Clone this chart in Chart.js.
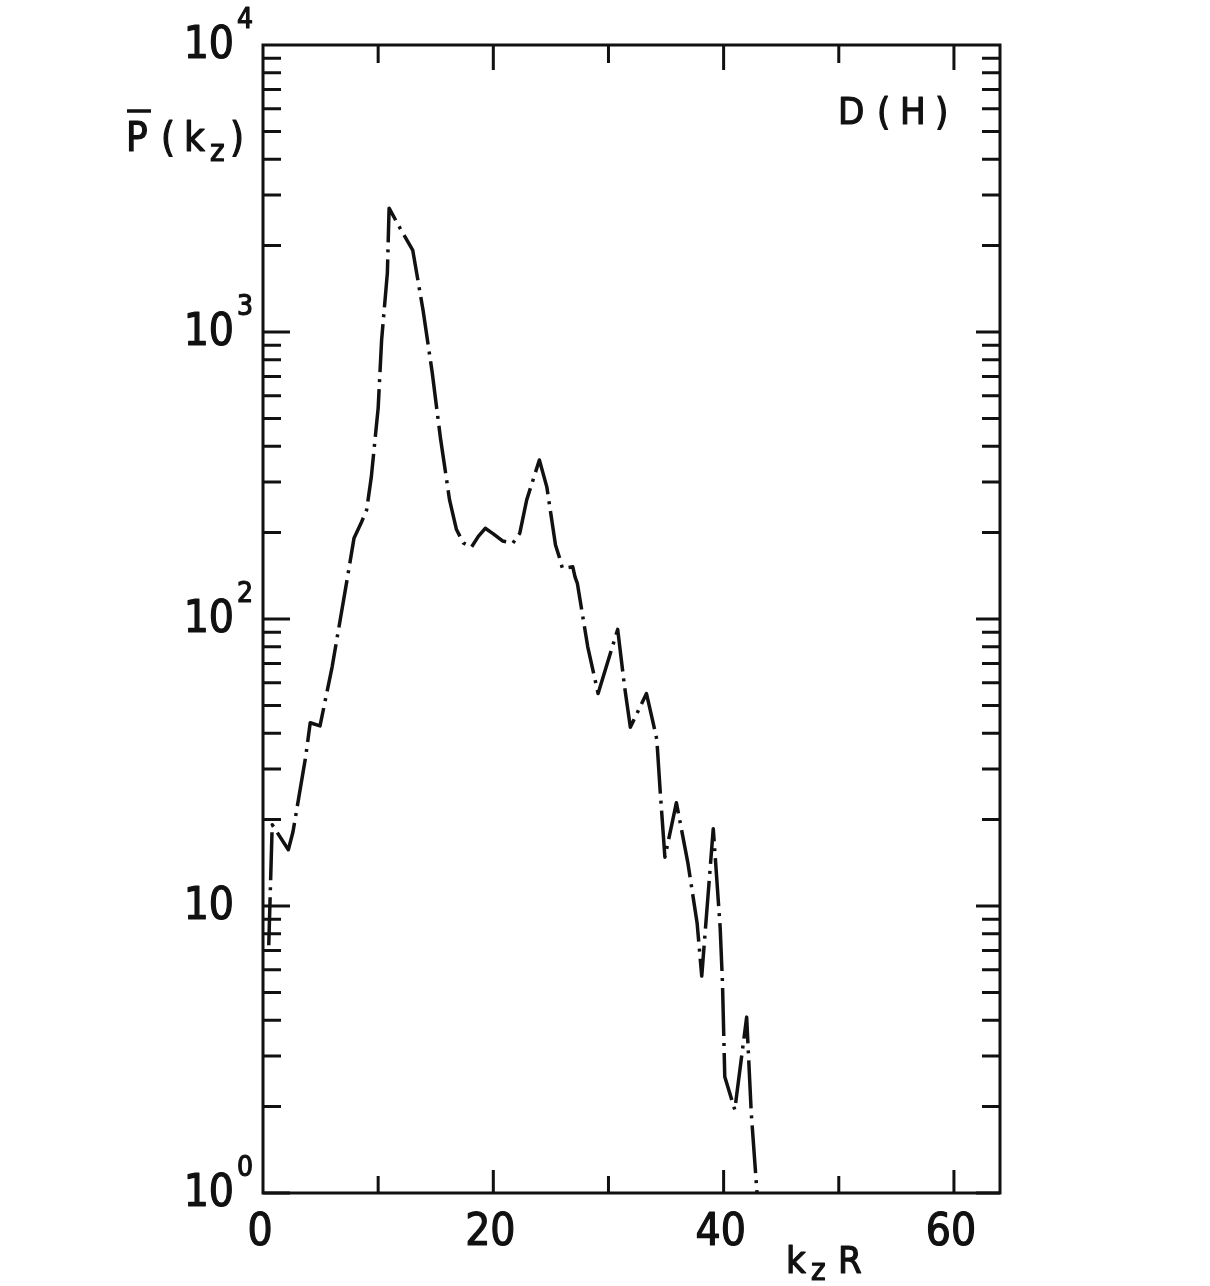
<!DOCTYPE html>
<html>
<head>
<meta charset="utf-8">
<script src="https://cdn.jsdelivr.net/npm/chart.js@4/dist/chart.umd.min.js"></script>
<style>
  html, body { margin: 0; padding: 0; background: #fff; }
  #wrap { width: 1210px; height: 1286px; }
</style>
</head>
<body>
<div id="wrap"><canvas id="spectrum" width="1210" height="1286"></canvas></div>
<script>
// k_z R values and the spectrum P(k_z)
const kzR = [0.5, 0.8, 2.2, 2.6, 3.7, 4.1, 4.95, 6.0, 7.3, 7.9, 8.5, 9.0, 9.4, 10.0, 10.3, 10.8, 10.95,
             11.9, 13.0, 13.9, 14.7, 15.4, 16.2, 16.8, 17.4, 18.1, 18.7, 19.3, 20.0, 20.8, 21.7, 22.3, 22.9, 24.0, 24.65, 25.4,
             25.8, 26.0, 26.9, 27.1, 27.3, 28.2, 29.1, 30.8, 31.4, 31.9, 33.3, 33.85, 34.2, 34.5,
             34.9, 35.9, 36.9, 37.7, 38.1, 39.1, 39.7, 39.9, 40.1, 40.97, 42.0, 42.4, 42.9];
const power = [7.3, 19.2, 15.7, 18.1, 33, 43.5, 42.4, 68, 137, 191, 215, 240, 311, 543, 937, 1606, 2700,
               2300, 1930, 1190, 720, 430, 260, 205, 184, 178, 194, 207, 198, 187, 184, 199, 260, 358, 288, 181,
               161, 150, 152, 140, 133, 80, 55, 92, 58, 42, 55, 44, 38, 24.8,
               14.8, 22.9, 14.1, 8.7, 5.7, 18.6, 8.4, 5.4, 2.54, 1.95, 4.1, 1.9, 1.0];

// axis ticks
const xMinorTicks = [10, 30, 50];
const xMajorTicks = [0, 20, 40, 60];
const xTickLabels = ['0', '20', '40', '60'];
const yDecades = [1, 10, 100, 1000, 10000];
const yExponents = ['0', '', '2', '3', '4'];

const FONT = '"Liberation Sans Narrow", "DejaVu Sans Condensed", "Liberation Sans", sans-serif';

const points = kzR.map((v, i) => ({ x: v, y: power[i] }));

// pen-like text: fill plus a thin outline
function penText(c, s, x, y) {
    c.fillText(s, x, y);
    c.strokeText(s, x, y);
}

// frame, inward ticks and labels drawn from the chart's own scales
const framePlugin = {
    id: 'frame',
    afterDraw(chart) {
        const c = chart.ctx;
        const a = chart.chartArea;
        const xs = chart.scales.x;
        const ys = chart.scales.y;
        c.save();
        c.strokeStyle = '#111';
        c.fillStyle = '#111';
        c.lineWidth = 3;
        c.strokeRect(a.left, a.top, a.right - a.left, a.bottom - a.top);

        // y ticks, left and right
        for (let d = 0; d < 4; d++) {
            for (let m = 1; m <= 9; m++) {
                const py = ys.getPixelForValue(m * Math.pow(10, d));
                const major = m === 1;
                c.beginPath();
                c.moveTo(a.left, py); c.lineTo(a.left + (major ? 27 : 18), py);
                c.moveTo(a.right, py); c.lineTo(a.right - (major ? 24 : 18), py);
                c.stroke();
            }
        }
        // x ticks, bottom and top
        xMinorTicks.concat(xMajorTicks).forEach(v => {
            if (v === 0) return;
            const px = xs.getPixelForValue(v);
            const major = v % 20 === 0;
            c.beginPath();
            c.moveTo(px, a.bottom); c.lineTo(px, a.bottom - (major ? 23 : 17));
            c.moveTo(px, a.top); c.lineTo(px, a.top + (major ? 25 : 18));
            c.stroke();
        });

        c.lineWidth = 1.2;
        c.lineJoin = 'round';

        // x tick labels
        c.font = '44px ' + FONT;
        c.textAlign = 'center';
        c.textBaseline = 'alphabetic';
        xMajorTicks.forEach((v, i) => {
            penText(c, xTickLabels[i], xs.getPixelForValue(v) - 3, a.bottom + 52);
        });

        // y tick labels: 10 with exponent
        yDecades.forEach((v, i) => {
            const py = ys.getPixelForValue(v);
            c.font = '44px ' + FONT;
            c.textAlign = 'right';
            c.textBaseline = 'middle';
            penText(c, '10', 234, py + 2);
            if (yExponents[i]) {
                c.font = '28px ' + FONT;
                c.textAlign = 'left';
                penText(c, yExponents[i], 237, py - 24);
            }
        });

        // y axis title: P-bar(k_z)
        c.textAlign = 'left';
        c.textBaseline = 'alphabetic';
        c.font = '40px ' + FONT;
        penText(c, 'P', 126, 151);
        penText(c, '(', 161, 151);
        penText(c, 'k', 184, 151);
        penText(c, ')', 230, 151);
        c.font = '31px ' + FONT;
        penText(c, 'z', 210, 161);
        c.lineWidth = 3.5;
        c.beginPath(); c.moveTo(127, 111); c.lineTo(151, 111); c.stroke();
        c.lineWidth = 1.2;

        // panel label
        c.font = '38px ' + FONT;
        penText(c, 'D', 838, 124);
        penText(c, '(', 877, 124);
        penText(c, 'H', 900, 124);
        penText(c, ')', 935, 124);

        // x axis title: k_z R
        c.font = '38px ' + FONT;
        penText(c, 'k', 786, 1273);
        penText(c, 'R', 838, 1273);
        c.font = '31px ' + FONT;
        penText(c, 'z', 811, 1280);
        c.restore();
    }
};

new Chart(document.getElementById('spectrum'), {
    type: 'line',
    data: {
        datasets: [{
            label: 'D(H)',
            data: points,
            borderColor: '#111',
            borderWidth: 3.5,
            borderDash: [48, 7, 3, 7],
            borderJoinStyle: 'round',
            pointRadius: 0,
            tension: 0,
            fill: false
        }]
    },
    options: {
        responsive: false,
        animation: false,
        layout: { padding: { left: 263, right: 210, top: 45, bottom: 93 } },
        plugins: { legend: { display: false }, tooltip: { enabled: false } },
        scales: {
            x: { type: 'linear', min: 0, max: 64, display: false },
            y: { type: 'logarithmic', min: 1, max: 10000, display: false }
        }
    },
    plugins: [framePlugin]
});
</script>
</body>
</html>
